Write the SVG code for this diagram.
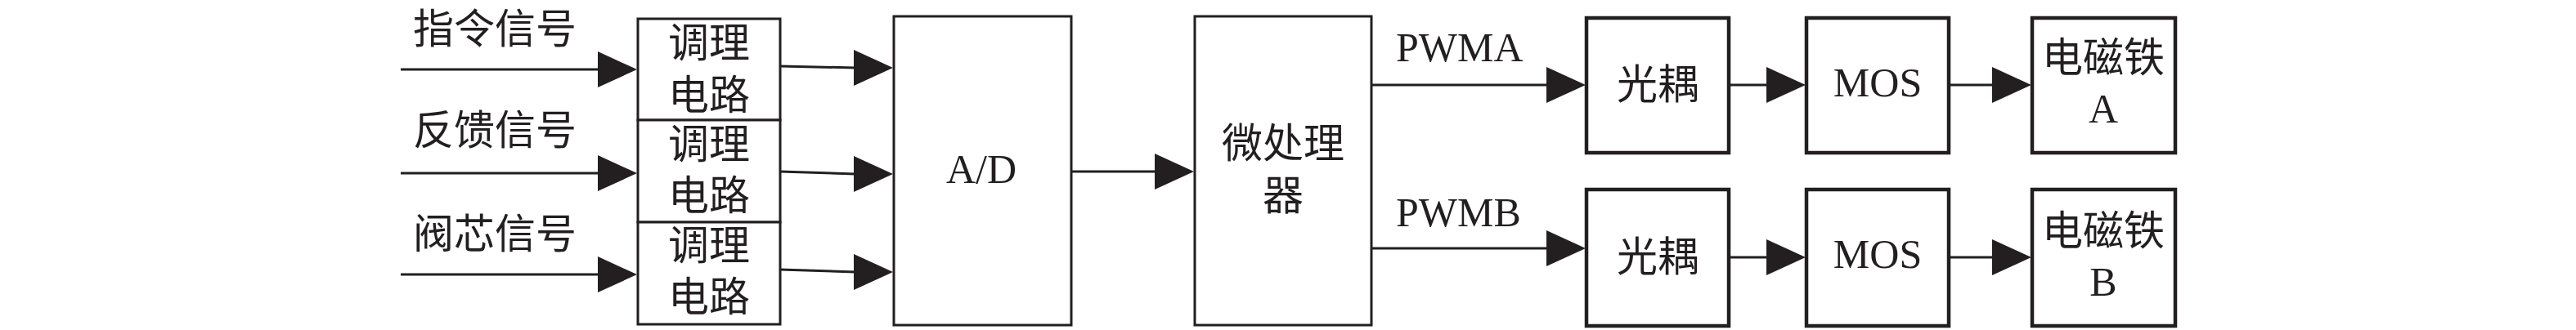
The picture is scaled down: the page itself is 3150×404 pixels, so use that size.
<svg xmlns="http://www.w3.org/2000/svg" width="3150" height="404" viewBox="0 0 3150 404">
<style>
.b{fill:#fff;stroke:#231f20;stroke-width:3}
.b2{fill:#fff;stroke:#231f20;stroke-width:4.5}
.t{font-family:"Liberation Serif","Noto Sans CJK SC",serif;font-size:50px;fill:#231f20}
.m{text-anchor:middle}
.c line,.c path{stroke:#231f20;stroke-width:3;fill:none}
.c polygon{fill:#231f20}
</style>
<rect width="3150" height="404" fill="#fff"/>
<g id="labels">
<text class="t" x="505" y="53">指令信号</text>
<text class="t" x="505" y="177">反馈信号</text>
<text class="t" x="505" y="304">阀芯信号</text>
<text class="t" x="1707" y="75">PWMA</text>
<text class="t" x="1707" y="277">PWMB</text>
</g>
<g id="tiaoli1"><rect class="b" x="780" y="23" width="174" height="124"/><text class="t m" x="867" y="70">调理</text><text class="t m" x="867" y="134">电路</text></g>
<g id="tiaoli2"><rect class="b" x="780" y="147" width="174" height="125"/><text class="t m" x="867" y="194">调理</text><text class="t m" x="867" y="257">电路</text></g>
<g id="tiaoli3"><rect class="b" x="780" y="272" width="174" height="125"/><text class="t m" x="867" y="318">调理</text><text class="t m" x="867" y="381">电路</text></g>
<g id="ad"><rect class="b" x="1093" y="20" width="217" height="378"/><text class="t m" x="1200" y="224">A/D</text></g>
<g id="mcu"><rect class="b" x="1461" y="20" width="216" height="378"/><text class="t m" x="1569" y="193">微处理</text><text class="t m" x="1569" y="257">器</text></g>
<g id="opto1"><rect class="b2" x="1940" y="22" width="174" height="165"/><text class="t m" x="2027" y="121">光耦</text></g>
<g id="opto2"><rect class="b2" x="1940" y="232" width="174" height="167"/><text class="t m" x="2027" y="332">光耦</text></g>
<g id="mos1"><rect class="b2" x="2209" y="22" width="174" height="165"/><text class="t m" x="2296" y="118">MOS</text></g>
<g id="mos2"><rect class="b2" x="2209" y="232" width="174" height="167"/><text class="t m" x="2296" y="328">MOS</text></g>
<g id="magA"><rect class="b2" x="2485" y="22" width="175" height="165"/><text class="t m" x="2572" y="88">电磁铁</text><text class="t m" x="2572" y="150">A</text></g>
<g id="magB"><rect class="b2" x="2485" y="232" width="175" height="167"/><text class="t m" x="2572" y="300">电磁铁</text><text class="t m" x="2572" y="362">B</text></g>
<g id="connectors" class="c">
<line x1="490" y1="85" x2="735" y2="85"/><polygon points="731,63 779,85 731,107"/>
<line x1="490" y1="212" x2="735" y2="212"/><polygon points="731,190 779,212 731,234"/>
<line x1="490" y1="336" x2="735" y2="336"/><polygon points="731,314 779,336 731,358"/>
<line x1="954" y1="81" x2="1046" y2="83"/><polygon points="1044,61 1092,83 1044,105"/>
<line x1="954" y1="210" x2="1046" y2="213"/><polygon points="1044,191 1092,213 1044,235"/>
<line x1="954" y1="330" x2="1046" y2="333"/><polygon points="1044,311 1092,333 1044,355"/>
<line x1="1310" y1="210" x2="1414" y2="210"/><polygon points="1412,188 1460,210 1412,232"/>
<line x1="1677" y1="104" x2="1893" y2="104"/><polygon points="1891,82 1939,104 1891,126"/>
<line x1="1677" y1="304" x2="1893" y2="304"/><polygon points="1891,282 1939,304 1891,326"/>
<line x1="2114" y1="104" x2="2162" y2="104"/><polygon points="2160,82 2208,104 2160,126"/>
<line x1="2114" y1="315" x2="2162" y2="315"/><polygon points="2160,293 2208,315 2160,337"/>
<line x1="2383" y1="104" x2="2438" y2="104"/><polygon points="2436,82 2484,104 2436,126"/>
<line x1="2383" y1="315" x2="2438" y2="315"/><polygon points="2436,293 2484,315 2436,337"/>
</g>
</svg>
